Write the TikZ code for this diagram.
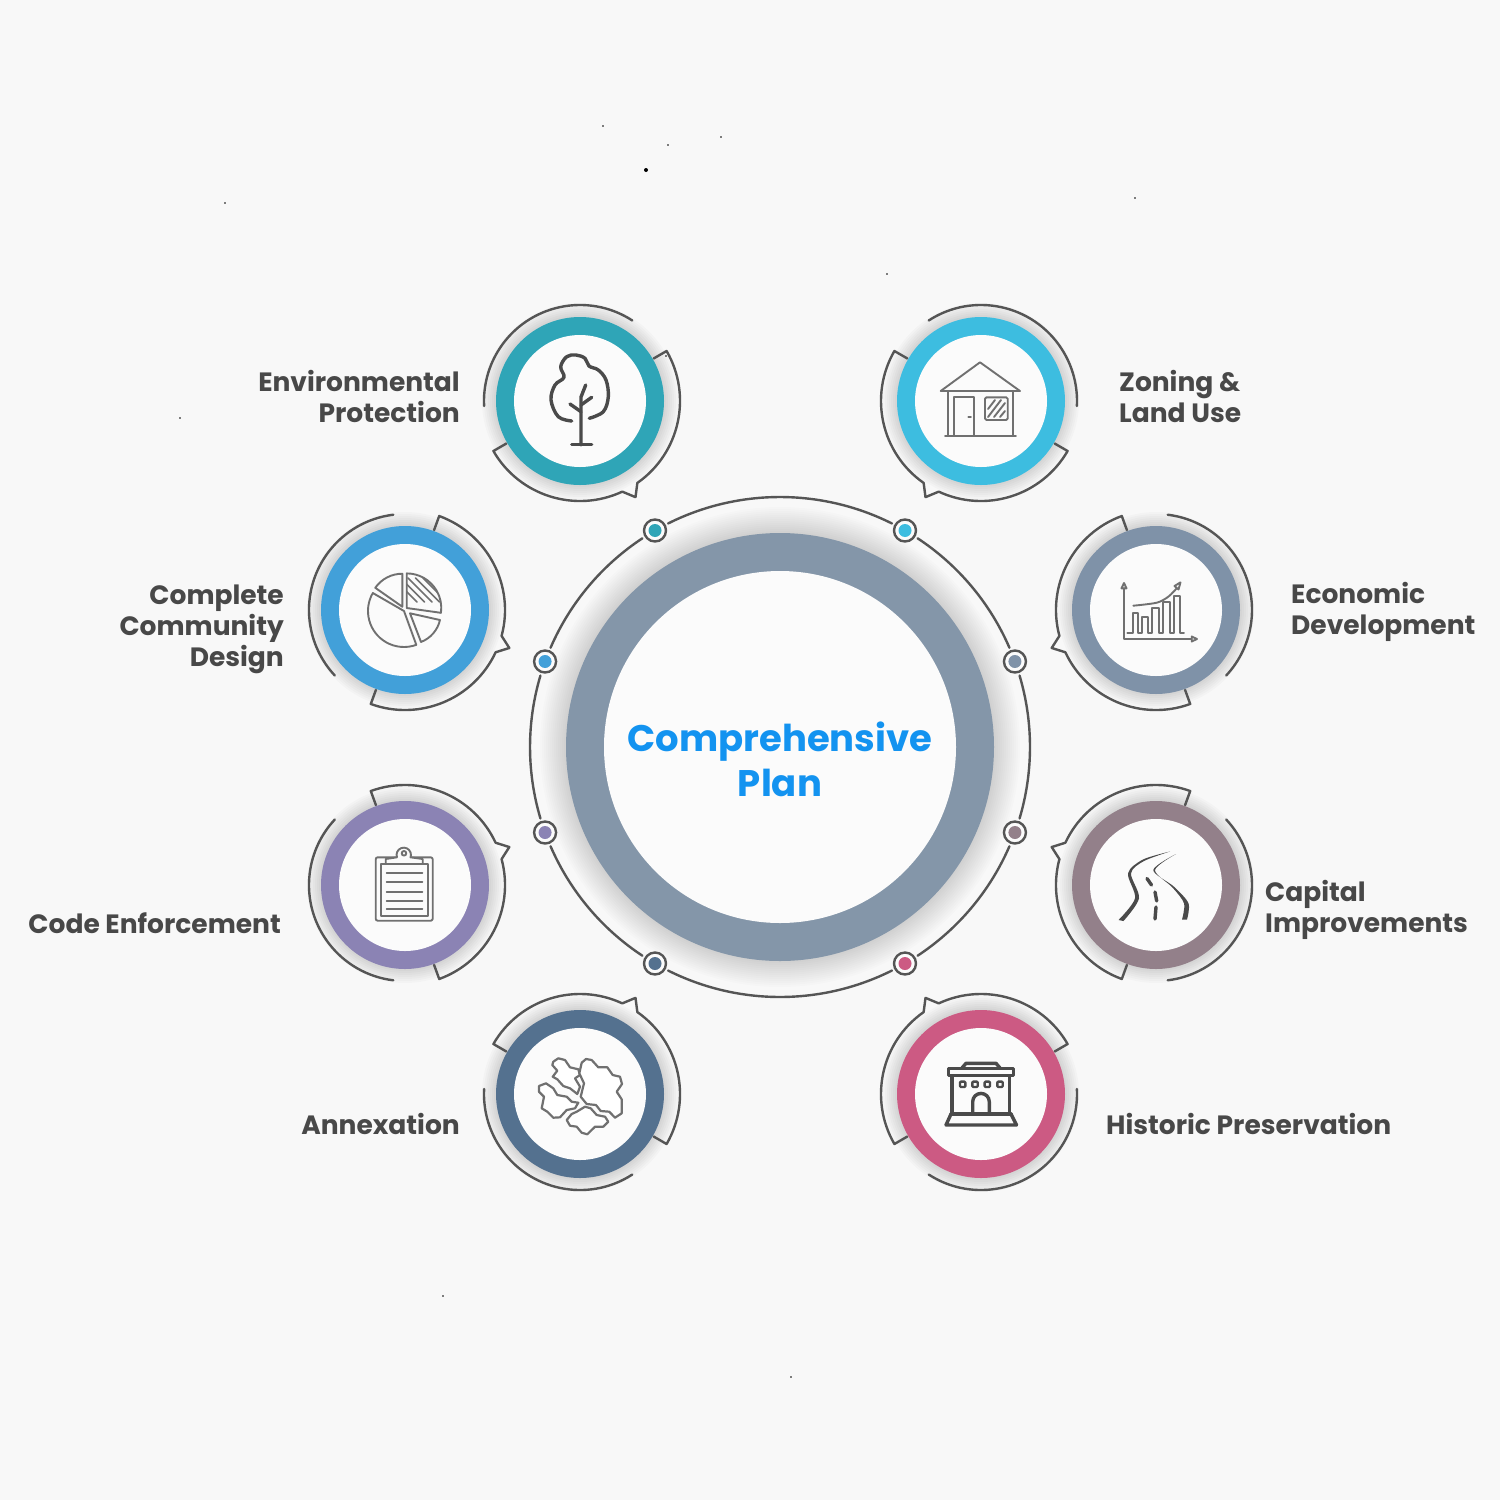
\documentclass[tikz,border=0pt]{standalone}
\usepackage{fontspec}
\setmainfont{Poppins}
\usepackage{xcolor}
\usepackage{tikz}
\usetikzlibrary{positioning, calc}

\definecolor{pagebg}{HTML}{F8F8F8}
\definecolor{discbg}{HTML}{FBFBFB}
\definecolor{linegray}{HTML}{555555}
\definecolor{labelgray}{HTML}{484848}
\definecolor{icondark}{HTML}{4A4A4A}
\definecolor{iconlight}{HTML}{707070}
\definecolor{titleblue}{HTML}{1393F0}
\definecolor{mainring}{HTML}{8496A9}
\definecolor{envcol}{HTML}{2FA5B7}
\definecolor{zoncol}{HTML}{3DBDE0}
\definecolor{comcol}{HTML}{42A0D9}
\definecolor{ecocol}{HTML}{7F92A8}
\definecolor{codcol}{HTML}{8B83B4}
\definecolor{capcol}{HTML}{93808A}
\definecolor{anxcol}{HTML}{54718F}
\definecolor{hiscol}{HTML}{CC5A83}

\tikzset{
  ringline/.style={draw=linegray, line width=2.4pt, line cap=round, line join=round},
  thinicon/.style={draw=iconlight, line width=1.9pt, line cap=round, line join=round},
  darkicon/.style={draw=icondark, line width=3.4pt, line cap=round, line join=round},
  hexpiece/.style={thinicon, line width=2.2pt, fill=white},
  sidelabel/.style={text=labelgray, inner sep=0pt, font=\fontsize{26.5}{31}\selectfont\bfseries},
  titlelabel/.style={text=titleblue, inner sep=0pt, align=center, font=\fontsize{37}{45}\selectfont\bfseries},
  dotring/.style={circle, draw=linegray, line width=2.4pt, fill=discbg, minimum size=22pt, inner sep=0pt},
}

% ring with its two outline pieces
\newcommand{\badge}[4]{
  \begin{scope}[shift={(#1,-#2)}]
    \foreach \i in {1,...,7}
      \fill[black, opacity=0.02] (0,0) circle (84+2*\i);
    \begin{scope}[#3]
      \draw[ringline] (57:96) arc (57:183:96);
      \draw[ringline] (30:85) -- (30:100) arc (30:-55:100) -- (-60:111) -- (-65:100)
        arc (-65:-150:100) -- (-150:85);
    \end{scope}
    \fill[#4] (0,0) circle (84);
    \fill[discbg] (0,0) circle (66);
  \end{scope}
}

\begin{document}
\begin{tikzpicture}[x=1pt, y=1pt]
  \useasboundingbox (0,0) rectangle (1500,-1500);
  \fill[pagebg] (0,0) rectangle (1500,-1500);

  % specks
  \foreach \sx/\sy in {603/126, 668/145, 721/137, 225/203, 1135/198, 887/274, 180/418, 666/356, 443/1296, 791/1377}
    \fill[black] (\sx,-\sy) circle (0.8);
  \fill[black] (646,-170) circle (2);

  % centre
  \begin{scope}[shift={(780,-747)}]
    \foreach \i in {1,...,13}
      \fill[black, opacity=0.013] (0,0) circle (214+2*\i);
    \fill[mainring] (0,0) circle (214);
    \fill[discbg] (0,0) circle (176);
    \foreach \a/\b in {63.4/116.6, 123.4/156.6, 163.4/196.6, 203.4/236.6, 243.4/296.6, 303.4/336.6, 343.4/376.6, 23.4/56.6}
      \draw[ringline] (\a:250) arc (\a:\b:250);
    \foreach \nm/\ang/\col in {dotenv/120/envcol, dotzon/60/zoncol, dotcom/160/comcol, doteco/20/ecocol,
      dotcod/200/codcol, dotcap/340/capcol, dotanx/240/anxcol, dothis/300/hiscol} {
      \node[dotring] (\nm) at (\ang:250) {};
      \fill[\col] (\nm) circle (6.5);
    }
    \node[titlelabel] (title) at (0,-12) {Comprehensive\\Plan};
  \end{scope}

  \badge{580}{401}{}{envcol}
  \badge{981}{401}{xscale=-1}{zoncol}
  \badge{405}{610}{rotate=40}{comcol}
  \badge{1156}{610}{xscale=-1, rotate=40}{ecocol}
  \badge{405}{885}{yscale=-1, rotate=40}{codcol}
  \badge{1156}{885}{xscale=-1, yscale=-1, rotate=40}{capcol}
  \badge{580}{1094}{yscale=-1}{anxcol}
  \badge{981}{1094}{xscale=-1, yscale=-1}{hiscol}

  % labels
  \node[sidelabel, align=right, anchor=east] (envlabel) at (460,-396) {Environmental\\Protection};
  \node[sidelabel, align=left, anchor=west] (zonlabel) at (1119,-396) {Zoning \&\\Land Use};
  \node[sidelabel, align=right, anchor=east] (comlabel) at (284,-629) {Complete\\Community\\Design};
  \node[sidelabel, align=left, anchor=west] (ecolabel) at (1291,-612) {Economic\\Development};
  \node[sidelabel, anchor=east] (codlabel) at (281,-923) {Code Enforcement};
  \node[sidelabel, align=left, anchor=west] (caplabel) at (1265,-910) {Capital\\Improvements};
  \node[sidelabel, anchor=east] (anxlabel) at (460,-1124) {Annexation};
  \node[sidelabel, anchor=west] (hislabel) at (1106,-1124) {Historic Preservation};

  % tree
  \begin{scope}[shift={(580,-401)}]
    \draw[darkicon] plot[smooth, tension=0.6] coordinates {(-8.3,-20) (-21.7,-15.7) (-29,1) (-25,16) (-16,23.7)
      (-19.3,34.3) (-13.3,44.3) (-4,46) (5,42.7) (9,35) (18.3,31) (26,21) (28.3,4.3) (23.3,-10.7) (9.3,-17.3)};
    \draw[darkicon] (1,-44) -- (1,4) -- (5.7,16);
    \draw[darkicon] (-10,-3) -- (1,-10.7);
    \draw[darkicon] (11.7,3.7) -- (1,-4);
    \draw[darkicon] (-8.3,-43.3) -- (11.7,-43.3);
  \end{scope}

  % house
  \begin{scope}[shift={(981,-401)}]
    \draw[thinicon] (-40.3,10) -- (-1,38.7) -- (39,10) -- cycle;
    \draw[thinicon] (-32.7,10) -- (-32.7,-34.7) (32.3,10) -- (32.3,-34.7);
    \draw[thinicon] (-36,-34.7) -- (35,-34.7);
    \draw[thinicon] (-27,-34.7) rectangle (-7,3.7);
    \draw[thinicon] (-12.7,-15.7) -- (-10,-15.7);
    \draw[thinicon, rounded corners=1.5pt] (4,-19) rectangle (26.7,3.7);
    \draw[thinicon] (7,-8) -- (14,1) (7,-16) -- (20,1) (13,-16) -- (24,-2) (19,-16) -- (24,-10);
  \end{scope}

  % pie
  \begin{scope}[shift={(405,-610)}]
    \draw[thinicon] (-1,-1) -- ++(150:36) arc (150:290:36) -- cycle;
    \draw[thinicon] (-2.7,3.3) -- ++(145:33) arc (145:90:33) -- cycle;
    \draw[thinicon] (1.7,2) -- ++(90:34.6) arc (90:-8:34.6) -- cycle;
    \draw[thinicon] (5,-3.3) -- ++(-12.6:30.7) arc (-12.6:-69:30.7) -- cycle;
    \begin{scope}
      \clip (1.7,2) -- ++(90:34.6) arc (90:-8:34.6) -- cycle;
      \foreach \h in {0,...,7}
        \draw[thinicon, line width=1.5pt] (-12+\h*7.5,32) -- ++(24,-24);
    \end{scope}
  \end{scope}

  % chart
  \begin{scope}[shift={(1156,-610)}]
    \draw[thinicon] (-32,21.7) -- (-32,-29) -- (35.7,-29);
    \draw[thinicon] (-34.5,21.7) -- (-29.5,21.7) -- (-32,27) -- cycle;
    \draw[thinicon] (35.7,-26.5) -- (35.7,-31.5) -- (41,-29) -- cycle;
    \draw[thinicon] (-28.7,-23.3) -- (-23.3,-23.3) -- (-23.3,-3.3) -- (-17.7,-3.3) -- (-17.7,-23.3)
      -- (-14.3,-23.3) -- (-14.3,-6.7) -- (-7.7,-6.7) -- (-7.7,-23.3) -- (-3.7,-23.3) -- (-3.7,1.7)
      -- (3.3,1.7) -- (3.3,-23.3) -- (7.3,-23.3) -- (7.3,7.7) -- (14,7.7) -- (14,-23.3) -- (18,-23.3)
      -- (18,14.3) -- (24,14.3) -- (24,-23.3) -- (28,-23.3);
    \draw[thinicon] plot[smooth] coordinates {(-22.7,4.3) (0.7,7.3) (12.3,13.3) (20.7,21.7)};
    \draw[thinicon] (18.5,24) -- (24.5,27.7) -- (22.5,20.5) -- cycle;
  \end{scope}

  % clipboard
  \begin{scope}[shift={(405,-885)}]
    \draw[thinicon, rounded corners=2pt] (-29.3,-35.7) rectangle (27.7,27.7);
    \draw[thinicon] (-24,-30.7) rectangle (22.7,21);
    \draw[thinicon, fill=discbg] (-19.3,21) -- (-19.3,26) -- (-8,27.7) arc (200:-20:7.2) -- (17.7,26) -- (17.7,21) -- cycle;
    \draw[thinicon] (-1,31.7) circle (2.3);
    \foreach \h in {11.7,2.7,-6.7,-15.7,-24.3}
      \draw[thinicon] (-18.3,\h) -- (17.3,\h);
  \end{scope}

  % road
  \begin{scope}[shift={(1156,-885)}]
    \fill[icondark] plot[smooth] coordinates {(-37.5,-35) (-21,-13.3) (-28,11.7) (-13,25.5) (14,33.5)}
      -- plot[smooth] coordinates {(14,33.5) (-12,24) (-25,11.7) (-17,-13.3) (-32.5,-36)} -- cycle;
    \fill[icondark] plot[smooth] coordinates {(31,-34.5) (32.5,-18.3) (18,-1.7) (-2.7,15) (20,31)}
      -- plot[smooth] coordinates {(20,31) (-1,15) (16.5,-2.5) (28,-18.3) (26,-34.5)} -- cycle;
    \draw[darkicon] (-9,6.5) -- (-4.5,0);
    \draw[darkicon] (-1,-7) -- (0.7,-16);
    \draw[darkicon] (0,-22) -- (-1,-34);
  \end{scope}

  % hexagon cluster
  \begin{scope}[shift={(580,-1094)}]
    \draw[hexpiece] (-26.7,32.3) -- (-21.7,35.7) -- (-15,34) -- (-10,26.7) -- (-1.7,24.7) -- (0,19) -- (-5,15.7) -- (0,7.3) -- (-2.7,0) -- (-10,5.7) -- (-16.7,8) -- (-22.7,14.7) -- (-27.3,17.3) -- (-22.7,23.3) -- (-27.7,29) -- cycle;
    \draw[hexpiece] (1.7,31.3) -- (6,35) -- (11.7,34) -- (18.3,26.7) -- (27.3,26.7) -- (32.7,19) -- (40,17.3) -- (42,10) -- (36.7,2.3) -- (41.7,-5.3) -- (41.7,-19.3) -- (35,-23.7) -- (29.3,-17.7) -- (20.7,-17) -- (16,-11) -- (6.7,-10) -- (0.7,-2.7) -- (4,10.7) -- (-0.7,20.7) -- cycle;
    \draw[hexpiece] (-41,8) -- (-34,10.7) -- (-26.7,5.7) -- (-22.7,-1) -- (-13.3,-2.7) -- (-8.3,-7.7) -- (-1.7,-8.7) -- (-5,-14.3) -- (-13.3,-16) -- (-20,-23.3) -- (-26.7,-23.7) -- (-32.7,-17.7) -- (-38.3,-14.3) -- (-36,-2.7) -- (-41,2.3) -- cycle;
    \draw[hexpiece] (-3.3,-17.7) -- (5,-12.7) -- (10.7,-14.3) -- (16.7,-21) -- (25,-22.7) -- (28.3,-27.7) -- (23.3,-32.7) -- (15,-32.7) -- (7.3,-40.3) -- (1.7,-38.7) -- (-3.3,-32.7) -- (-10,-31.7) -- (-13.3,-26) -- (-8.3,-20) -- cycle;
  \end{scope}

  % building
  \begin{scope}[shift={(981,-1094)}]
    \draw[darkicon] (-32.7,18.3) rectangle (32.7,25.7);
    \draw[darkicon] (-19.3,25.7) -- (-15,30.7) -- (15,30.7) -- (19.3,25.7);
    \draw[darkicon] (-29,18.3) -- (-29,-20) (28.3,18.3) -- (28.3,-20);
    \foreach \wx in {-18.3,-6,6.3,19}
      \draw[darkicon, line width=2.4pt, rounded corners=1pt] (\wx-2.7,7) rectangle (\wx+2.7,12.4);
    \draw[darkicon] (-8.3,-20) -- (-8.3,-7.7) arc (180:0:8.3) -- (8.3,-20);
    \draw[darkicon] (-30,-20) -- (30,-20);
    \draw[darkicon] (-30,-20) -- (-35,-31) -- (35.5,-31) -- (30,-20);
  \end{scope}
\end{tikzpicture}
\end{document}
